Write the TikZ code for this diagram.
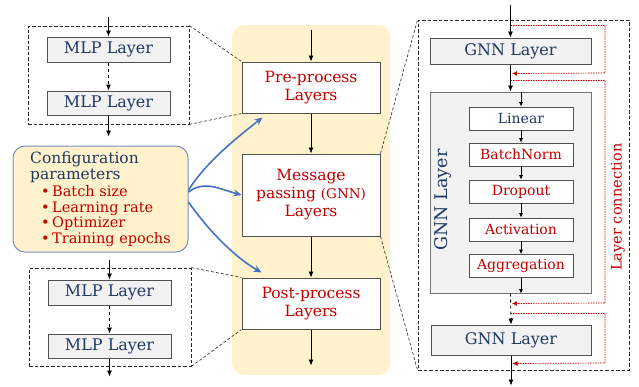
\documentclass[tikz,border=0pt]{standalone}
\usepackage{fontspec}
\setmainfont{DejaVu Serif}
\usetikzlibrary{arrows.meta}
\definecolor{cnavy}{RGB}{31,56,100}
\definecolor{cred}{RGB}{192,0,0}
\definecolor{cyel}{RGB}{255,242,204}
\definecolor{cgfill}{RGB}{242,242,242}
\definecolor{cgline}{RGB}{80,80,80}
\definecolor{cblue}{RGB}{68,114,196}
\definecolor{cframe}{RGB}{120,145,190}
\newcommand{\fsz}[2]{\fontsize{#1}{#2}\selectfont}
\tikzset{
  diag/.style={x=1pt,y=-1pt,>={Latex[length=6pt,width=5pt]}},
  layerbox/.style={draw=cgline,fill=cgfill,line width=1pt,inner sep=0pt,text=cnavy,font=\fsz{16}{18}},
  stagebox/.style={draw=cgline,fill=white,line width=1pt,inner sep=0pt,minimum width=138pt,text=cred,align=center,font=\fsz{15.5}{18}},
  opbox/.style={draw=cgline,fill=white,line width=0.9pt,inner sep=0pt,minimum width=104pt,minimum height=23pt,text=cred,font=\fsz{14}{15}},
  zoomframe/.style={draw=black!85,line width=0.8pt,dash pattern=on 3.5pt off 2pt,inner sep=0pt},
  guide/.style={black!85,line width=0.6pt,dash pattern=on 3pt off 2pt},
  flow/.style={->,line width=0.8pt},
  sflow/.style={-{Latex[length=4.5pt,width=4pt]},line width=0.7pt},
  skip/.style={-{Latex[length=5pt,width=5pt]},cred,line width=0.7pt,dash pattern=on 1.5pt off 1pt},
  cfgarrow/.style={-{Stealth[length=8pt,width=7pt]},cblue,line width=1.6pt},
  bul/.style={},
}
\newcommand{\cfgitem}[1]{{\color{cred}\fsz{14.5}{15}\hspace*{11pt}\textbullet\,#1}}

\begin{document}
\begin{tikzpicture}[diag]
  \useasboundingbox (0,0) rectangle (639,386);
  \def\rail{605}
  % middle column background
  \fill[cyel,rounded corners=12pt] (232,25) rectangle (390,375);

  % left: MLP stacks
  \node[zoomframe,minimum width=161pt,minimum height=98pt] (ltframe) at (108.5,75) {};
  \node[zoomframe,minimum width=162pt,minimum height=98pt] (lbframe) at (110,317) {};
  \node[layerbox,minimum width=123pt,minimum height=25pt] (mlpa) at (108.5,49.5) {MLP Layer};
  \node[layerbox,minimum width=123pt,minimum height=24pt] (mlpb) at (108.5,103) {MLP Layer};
  \node[layerbox,minimum width=123pt,minimum height=25pt] (mlpc) at (109.5,292.5) {MLP Layer};
  \node[layerbox,minimum width=123pt,minimum height=24pt] (mlpd) at (109.5,346) {MLP Layer};
  \draw[flow] ([yshift=20pt]mlpa.north) -- (mlpa.north);
  \draw[flow,dashed] (mlpa.south) -- (mlpb.north);
  \draw[flow] (mlpb.south) -- ++(0,21);
  \draw[flow] ([yshift=20pt]mlpc.north) -- (mlpc.north);
  \draw[flow,dashed] (mlpc.south) -- (mlpd.north);
  \draw[flow] (mlpd.south) -- ++(0,18);

  % configuration
  \node[draw=cframe,fill=cyel,line width=1pt,rounded corners=12pt,minimum width=175pt,minimum height=106pt,
        align=left,text=cnavy,font=\fsz{15.5}{15.5}] (cfg) at (100.5,199)
    {Configuration\\parameters\\[2pt]
     \cfgitem{Batch size}\\
     \cfgitem{Learning rate}\\
     \cfgitem{Optimizer}\\
     \cfgitem{Training epochs}};

  % middle: pipeline stages
  \node[stagebox,minimum height=51pt] (pre) at (311,87.5) {Pre-process\\Layers};
  \node[stagebox,minimum height=82pt] (msg) at (311,195) {Message\\passing {\fsz{13.5}{18}(GNN)}\\Layers};
  \node[stagebox,minimum height=51pt] (post) at (311,303.5) {Post-process\\Layers};
  \draw[flow] ([yshift=32pt]pre.north) -- (pre.north);
  \draw[flow] (pre.south) -- (msg.north);
  \draw[flow] (msg.south) -- (post.north);
  \draw[flow] (post.south) -- ++(0,36);

  \draw[cfgarrow] ([yshift=9pt]cfg.east) .. controls +(18,-28) and +(-28,22) .. ([xshift=21pt,yshift=-4pt]pre.south west);
  \draw[cfgarrow] ([yshift=7pt]cfg.east) .. controls +(16,-12) and +(-22,-6) .. (msg.west);
  \draw[cfgarrow] ([yshift=-3pt]cfg.east) .. controls +(18,26) and +(-28,-16) .. ([xshift=20pt,yshift=5pt]post.north west);

  % right: inside a GNN layer
  \node[zoomframe,minimum width=211pt,minimum height=350pt] (rframe) at (523.5,195) {};
  \node[layerbox,minimum width=161pt,minimum height=26pt] (gnna) at (510.5,51) {GNN Layer};
  \node[draw=black!55,fill=cgfill,line width=1pt,minimum width=161pt,minimum height=201pt] (gnnin) at (510.5,192.5) {};
  \node[rotate=90,text=cnavy,font=\fsz{17.5}{19}] (gnnlbl) at (443,200) {GNN Layer};
  \node[opbox,text=cnavy] (lin) at (521,118.5) {Linear};
  \node[opbox] (bn)  at (521,154.5) {BatchNorm};
  \node[opbox] (drp) at (521,191.5) {Dropout};
  \node[opbox] (act) at (521,229.5) {Activation};
  \node[opbox] (agg) at (521,266) {Aggregation};
  \node[layerbox,minimum width=160pt,minimum height=30pt] (gnnb) at (511,340) {GNN Layer};
  \node[rotate=90,text=cred,font=\fsz{14.5}{16}] (lconn) at (618,207) {Layer connection};

  \draw[flow] ([yshift=33pt]gnna.north) -- (gnna.north);
  \draw[flow] (gnna.south) -- (gnnin.north);
  \draw[sflow] (lin.north |- gnnin.north) -- (lin.north);
  \draw[sflow] (lin) -- (bn);
  \draw[sflow] (bn) -- (drp);
  \draw[sflow] (drp) -- (act);
  \draw[sflow] (act) -- (agg);
  \draw[sflow] (agg.south) -- (agg.south |- gnnin.south);
  \draw[flow,dashed] (gnnin.south) -- (gnnb.north);
  \draw[flow] (gnnb.south) -- ++(0,30);

  % skip connections
  \draw[skip] ([yshift=12pt]gnna.north) -| (\rail,73) -- ([yshift=-9pt,xshift=1.5pt]gnna.south);
  \draw[skip] ([yshift=-16pt]gnna.south) -| (\rail,303) -- ([yshift=-10pt,xshift=1.5pt]gnnin.south);
  \draw[skip] ([yshift=-20pt]gnnin.south) -| (\rail,363) -- ([yshift=-8pt,xshift=1.5pt]gnnb.south);

  % zoom guides
  \draw[guide] (ltframe.north east) -- (pre.north west);
  \draw[guide] (ltframe.south east) -- (pre.south west);
  \draw[guide] (lbframe.north east) -- (post.north west);
  \draw[guide] (lbframe.south east) -- (post.south west);
  \draw[guide] (msg.north east) -- (rframe.north west);
  \draw[guide] (msg.south east) -- (rframe.south west);
\end{tikzpicture}
\end{document}
